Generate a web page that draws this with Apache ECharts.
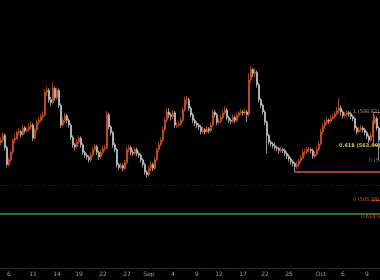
<!DOCTYPE html>
<html><head><meta charset="utf-8">
<script src="https://cdn.jsdelivr.net/npm/echarts@6/dist/echarts.min.js"></script>
<style>html,body{margin:0;padding:0;background:#000}#c{width:380px;height:280px}</style>
</head><body><div id="c"></div>
<script>
// [open, close, low, high]
const ohlc = [
[566,569,563,572],[569,574,567,577],[574,561,558,576],[561,543,540,563],[543,548,541,551],
[548,556,546,558],[556,569,554,571],[569,571,566,575],[571,577,569,579],[577,578,574,582],
[578,575,572,580],[575,582,573,585],[582,579,576,584],[579,580,577,583],[580,583,578,587],
[583,585,580,589],[585,571,568,587],[571,580,569,582],[580,588,578,591],[588,590,585,593],
[590,594,588,597],[594,596,590,600],[596,620,594,623],[620,622,616,626],[622,612,609,624],
[612,609,605,615],[609,624,607,630],[624,614,611,626],[614,622,612,625],[622,606,603,624],
[606,585,582,608],[585,590,583,593],[590,595,587,598],[595,590,587,597],[590,585,582,592],
[585,572,569,587],[572,564,561,574],[564,562,558,566],[562,567,560,570],[567,571,565,574],
[571,564,561,573],[564,556,553,566],[556,553,550,558],[553,551,548,555],[551,548,545,553],
[548,553,546,556],[553,559,551,562],[559,562,557,565],[562,556,553,564],[556,551,548,558],
[551,556,549,559],[556,560,554,563],[560,561,557,564],[561,596,559,600],[596,583,580,598],
[583,577,574,585],[577,564,561,579],[564,559,556,566],[559,543,540,561],[543,540,537,545],
[540,542,538,545],[542,539,536,544],[539,545,537,548],[545,559,543,562],[559,561,556,564],
[561,556,553,563],[556,555,552,559],[555,559,553,562],[559,555,552,561],[555,553,550,557],
[553,548,545,555],[548,543,540,550],[543,535,532,545],[535,532,529,537],[532,539,530,542],
[539,543,536,546],[543,539,536,545],[539,548,537,551],[548,559,546,561],[559,564,556,567],
[564,569,562,572],[569,580,567,583],[580,590,578,593],[590,599,588,603],[599,596,592,603],
[596,594,590,598],[594,598,591,601],[598,585,582,600],[585,585,582,588],[585,586,583,589],
[586,590,584,593],[590,601,588,604],[601,612,599,615],[612,612,607,616],[612,603,600,614],
[603,596,593,605],[596,590,587,598],[590,587,584,592],[587,585,582,589],[585,583,580,587],
[583,578,575,585],[578,580,576,583],[580,578,575,582],[578,581,576,584],[581,579,576,583],
[579,585,577,588],[585,599,583,602],[599,596,593,601],[596,588,585,598],[588,589,586,592],
[589,593,587,596],[593,598,591,601],[598,601,596,605],[601,593,590,603],[593,590,587,595],
[590,589,586,592],[589,593,587,596],[593,590,587,595],[590,595,588,598],[595,598,593,600],
[598,599,596,602],[599,598,595,601],[598,599,596,603],[599,596,588,601],[596,633,594,640],
[633,644,630,648],[644,640,636,646],[640,641,636,645],[641,628,625,643],[628,612,609,630],
[612,606,603,614],[606,599,596,608],[599,588,585,601],[588,574,555,590],[574,567,564,576],
[567,565,562,569],[565,563,560,567],[563,561,558,566],[561,560,557,563],[560,558,555,562],
[558,559,556,562],[559,558,555,561],[558,555,552,560],[555,552,549,557],[552,549,546,554],
[549,546,543,551],[546,544,541,548],[544,541,535,546],[541,543,538,546],[543,547,540,549],
[547,550,545,553],[550,556,548,559],[556,556,553,560],[556,559,554,562],[559,559,556,562],
[559,558,555,561],[558,552,549,560],[552,554,550,557],[554,559,552,562],[559,565,557,568],
[565,578,563,581],[578,584,575,587],[584,588,581,591],[588,590,585,593],[590,589,586,592],
[589,592,587,595],[592,594,590,597],[594,597,592,600],[597,600,595,604],[600,603,597,614],
[603,599,595,606],[599,595,592,601],[595,596,593,599],[596,598,594,601],[598,597,594,600],
[597,594,591,599],[594,592,589,596],[592,582,579,594],[582,578,575,584],[578,580,576,583],
[580,582,578,585],[582,580,577,584],[580,577,574,582],[577,573,570,579],[573,569,566,575],
[569,574,567,577],[574,587,572,590],[587,592,585,595],[592,582,579,594],[582,569,548,584]
];
const tickIdx  = [4,16,28,39,51,63,74,86,98,109,121,132,144,160,171,183];
const tickText = ['6','11','14','19','22','27','Sep','4','9','12','17','22','25','Oct','6','9'];

// annotation levels
const fibHigh = 598.82, fib618 = 563.09, fib0b = 546.98;
const fibLow = 505.28, fib618low = 490.5;
const supportLevel = 535.2, dimLevel = 521.3;

const categories = ohlc.map((d, i) => {
  const k = tickIdx.indexOf(i);
  return k >= 0 ? tickText[k] : '';
});
const last = ohlc.length - 1;
const ORANGE = '#d9582a';

const chart = echarts.init(document.getElementById('c'), null, {renderer: 'canvas'});
chart.setOption({
  backgroundColor: '#000',
  animation: false,
  grid: {left: 0, right: 0, top: 0, bottom: 12},
  xAxis: {
    type: 'category', data: categories, boundaryGap: true,
    axisLine: {show: true, lineStyle: {color: '#262626', width: 1}},
    axisTick: {show: false},
    axisLabel: {
      interval: (i, v) => v !== '', color: '#9a9a9a', fontSize: 6, margin: 3,
      fontFamily: 'DejaVu Sans', fontWeight: 'normal'
    },
    splitLine: {show: false}
  },
  yAxis: {type: 'value', min: 433, max: 718, show: false, splitLine: {show: false}},
  series: [{
    type: 'candlestick',
    data: ohlc,
    barWidth: 1.4,
    itemStyle: {color: ORANGE, color0: '#cfcfcf', borderColor: ORANGE, borderColor0: '#cfcfcf', borderWidth: 0.7},
    markLine: {
      silent: true, symbol: ['none', 'none'], label: {show: false},
      data: [
        {yAxis: fib618low, lineStyle: {color: '#2f9a38', width: 1.5, type: 'solid'}},
        {yAxis: dimLevel, lineStyle: {color: '#1e1e1e', width: 1, type: [3, 3]}},
        [{coord: [147, supportLevel]}, {coord: [last, supportLevel], x: 380, lineStyle: {color: ORANGE, width: 1.5, type: 'solid'}}],
        [{coord: [186, fibHigh]}, {coord: [last, fibHigh], x: 380, lineStyle: {color: ORANGE, width: 1, type: 'solid'}}],
        [{coord: [186, fib618]}, {coord: [last, fib618], x: 380, lineStyle: {color: ORANGE, width: 1, type: 'solid'}}],
        [{coord: [186, fibHigh]}, {coord: [186, fib618], lineStyle: {color: ORANGE, width: 1, type: 'solid'}}],
        [{coord: [186, fibLow]}, {coord: [last, fibLow], x: 380, lineStyle: {color: ORANGE, width: 1, type: [2, 1]}}]
      ]
    },
    markPoint: {
      silent: true, symbol: 'circle', symbolSize: 0,
      label: {show: true, position: 'inside', align: 'left', fontSize: 5, fontFamily: 'DejaVu Sans'},
      data: [
        {coord: [176, fibHigh], label: {formatter: '1 (598.82)', color: '#b89080'}},
        {coord: [169, fib618], label: {formatter: '0.618 (563.09)', color: '#d8c838', fontWeight: 'bold'}},
        {coord: [184, fib0b], label: {formatter: '0 (546.98)', color: '#7a7a7a'}},
        {coord: [176, fibLow], label: {formatter: '0 (505.28)', color: ORANGE}},
        {coord: [180, fib618low - 3], label: {formatter: '0.618 (490.50)', color: ORANGE}}
      ]
    }
  }]
});
</script></body></html>
